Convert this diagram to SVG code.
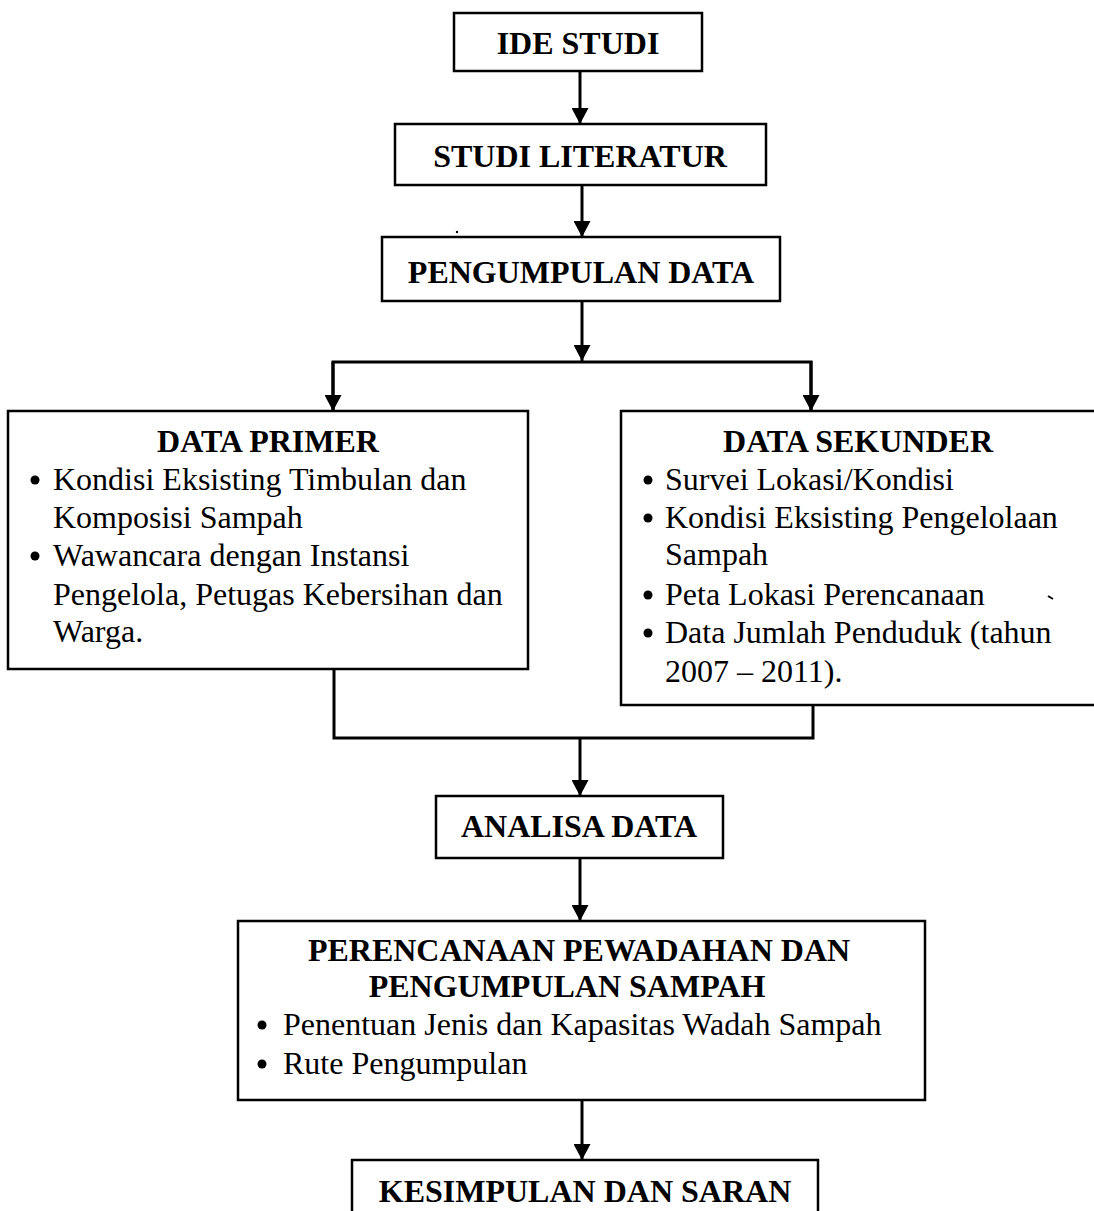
<svg xmlns="http://www.w3.org/2000/svg" width="1094" height="1211" viewBox="0 0 1094 1211">
<style>
.box{fill:#fff;stroke:#000;stroke-width:2.5}
.t{font-family:"Liberation Serif","Times New Roman",serif;font-size:32px;fill:#000}
.b{font-weight:bold;text-anchor:middle}
.con{fill:none;stroke:#000;stroke-width:3}
.dot{fill:#000}
</style>
<defs>
<marker id="ah" markerUnits="userSpaceOnUse" markerWidth="17" markerHeight="17" refX="16" refY="8.5" orient="auto">
<path d="M0,0 L16,8.5 L0,17 Z" fill="#000"/>
</marker>
</defs>
<rect width="1094" height="1211" fill="#fff"/>
<g id="connectors">
<path class="con" d="M580,71 V124" marker-end="url(#ah)"/>
<path class="con" d="M582,185 V237" marker-end="url(#ah)"/>
<path class="con" d="M582,301 V361" marker-end="url(#ah)"/>
<path class="con" d="M333,411 V362 H811 V411"/>
<path class="con" d="M333,362 V411" marker-end="url(#ah)"/>
<path class="con" d="M811,361 V411" marker-end="url(#ah)"/>
<path class="con" d="M334,669 V738 H813 V705"/>
<path class="con" d="M580,738 V796" marker-end="url(#ah)"/>
<path class="con" d="M580,858 V921" marker-end="url(#ah)"/>
<path class="con" d="M582,1100 V1160" marker-end="url(#ah)"/>
</g>
<g id="ide-studi">
<rect class="box" x="454" y="13" width="248" height="58"/>
<text class="t b" x="578" y="54">IDE STUDI</text>
</g>
<g id="studi-literatur">
<rect class="box" x="395" y="124" width="371" height="61"/>
<text class="t b" x="580" y="167">STUDI LITERATUR</text>
</g>
<g id="pengumpulan-data">
<rect class="box" x="382" y="237" width="398" height="64"/>
<text class="t b" x="581" y="283">PENGUMPULAN DATA</text>
</g>
<g id="data-primer">
<rect class="box" x="8" y="411" width="520" height="258"/>
<text class="t b" x="268" y="452">DATA PRIMER</text>
<circle class="dot" cx="35" cy="480" r="4.5"/>
<text class="t" x="53" y="490">Kondisi Eksisting Timbulan dan</text>
<text class="t" x="53" y="528">Komposisi Sampah</text>
<circle class="dot" cx="35" cy="556" r="4.5"/>
<text class="t" x="53" y="566">Wawancara dengan Instansi</text>
<text class="t" x="53" y="605">Pengelola, Petugas Kebersihan dan</text>
<text class="t" x="53" y="642">Warga.</text>
</g>
<g id="data-sekunder">
<rect class="box" x="621" y="411" width="480" height="294"/>
<text class="t b" x="858" y="452">DATA SEKUNDER</text>
<circle class="dot" cx="648" cy="480" r="4.5"/>
<text class="t" x="665" y="490">Survei Lokasi/Kondisi</text>
<circle class="dot" cx="648" cy="518" r="4.5"/>
<text class="t" x="665" y="528">Kondisi Eksisting Pengelolaan</text>
<text class="t" x="665" y="565">Sampah</text>
<circle class="dot" cx="648" cy="595" r="4.5"/>
<text class="t" x="665" y="605">Peta Lokasi Perencanaan</text>
<circle class="dot" cx="648" cy="633" r="4.5"/>
<text class="t" x="665" y="643">Data Jumlah Penduduk (tahun</text>
<text class="t" x="665" y="682">2007 – 2011).</text>
</g>
<g id="analisa-data">
<rect class="box" x="436" y="796" width="287" height="62"/>
<text class="t b" x="579" y="837">ANALISA DATA</text>
</g>
<g id="perencanaan">
<rect class="box" x="238" y="921" width="687" height="179"/>
<text class="t b" x="579" y="961">PERENCANAAN PEWADAHAN DAN</text>
<text class="t b" x="567" y="997">PENGUMPULAN SAMPAH</text>
<circle class="dot" cx="262" cy="1025" r="4.5"/>
<text class="t" x="283" y="1035">Penentuan Jenis dan Kapasitas Wadah Sampah</text>
<circle class="dot" cx="262" cy="1064" r="4.5"/>
<text class="t" x="283" y="1074">Rute Pengumpulan</text>
</g>
<g id="kesimpulan">
<rect class="box" x="352" y="1160" width="466" height="70"/>
<text class="t b" x="585" y="1202">KESIMPULAN DAN SARAN</text>
</g>
<g id="artifacts">
<circle cx="457" cy="232" r="1.2" fill="#000"/>
<path d="M1048,596 L1053,599" stroke="#000" stroke-width="2"/>
</g>
</svg>
